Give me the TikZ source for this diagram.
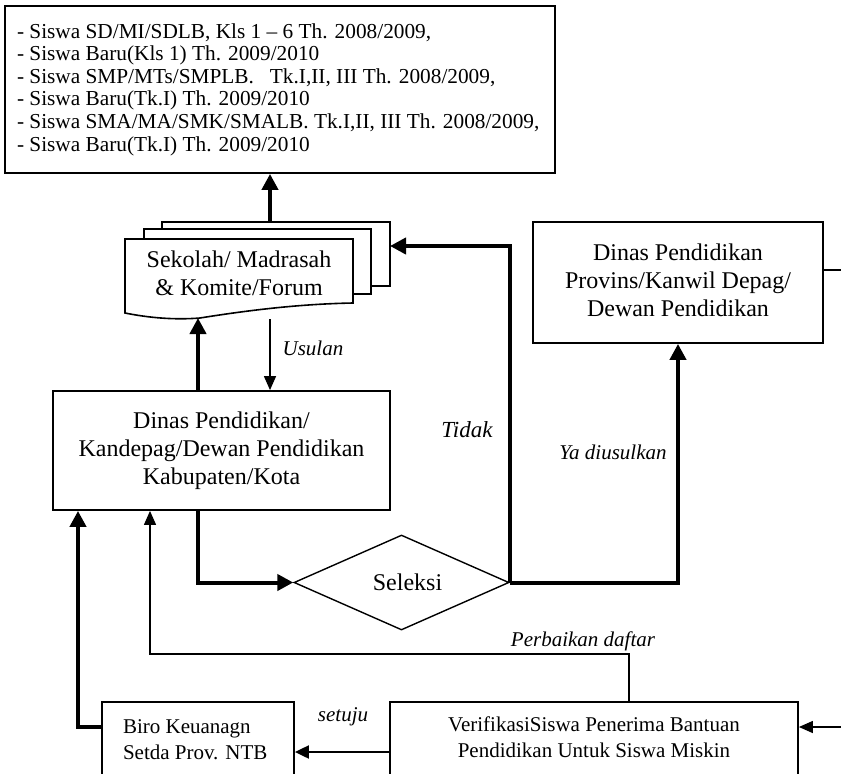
\documentclass[tikz,border=0pt]{standalone}
\usepackage{fontspec}
\setmainfont{Liberation Serif}
\usetikzlibrary{arrows.meta,shapes.geometric}
\newcommand{\liftc}[2]{\raisebox{#1}{\begin{tabular}{@{}c@{}}#2\end{tabular}}}
\begin{document}
\begin{tikzpicture}[x=1pt,y=-1pt,
  box/.style={draw, line width=1.8pt, inner sep=0pt},
  bigtxt/.style={font=\fontsize{24}{28}\selectfont},
  midtxt/.style={font=\fontsize{21}{26}\selectfont},
  lbl/.style={font=\fontsize{21}{24}\selectfont\itshape, inner sep=0pt},
  thk/.style={line width=4pt, -{Triangle[length=16pt,width=16pt]}},
  thn/.style={line width=1.3pt},
  thnarr/.style={line width=1.3pt, -{Triangle[length=14pt,width=12pt]}},
  mdarr/.style={line width=2pt, -{Triangle[length=14pt,width=13pt]}},
  page/.style={line width=1.6pt, fill=white, line join=miter}
]
\clip (0,0) rectangle (841,774);
\fill[white] (0,0) rectangle (841,774);

% top box
\node[box, minimum width=550pt, minimum height=167pt,
      font=\fontsize{21.3}{22.6}\selectfont] (top) at (280,89.5)
  {\raisebox{19pt}{\parbox{526pt}{\raggedright
   - Siswa SD/MI/SDLB, Kls 1 -- 6 Th. 2008/2009,\\
   - Siswa Baru(Kls 1) Th. 2009/2010\\
   - Siswa SMP/MTs/SMPLB.\ \ \ Tk.I,II, III Th. 2008/2009,\\
   - Siswa Baru(Tk.I) Th. 2009/2010\\
   - Siswa SMA/MA/SMK/SMALB. Tk.I,II, III Th. 2008/2009,\\
   - Siswa Baru(Tk.I) Th. 2009/2010}}};

% sekolah stacked documents
\draw[page] (162,229) -- (162,222) -- (390,222) -- (390,286) -- (371,286);
\draw[page] (144,239) -- (144,229) -- (371,229) -- (371,294) -- (353,294);
\draw[page] (125,239) -- (353,239) -- (353,303)
  .. controls (300,304) and (250,310) .. (200,318)
  .. controls (175,320) and (150,318) .. (125,313) -- cycle;
\node[bigtxt, align=center, inner sep=0pt] (sek) at (239,273) {Sekolah/ Madrasah\\\& Komite/Forum};
\coordinate (sekT) at (270,222);
\coordinate (sekB1) at (198,318);
\coordinate (sekB2) at (270,319);
\coordinate (sekR) at (390,246);

% Dinas kabupaten
\node[box, bigtxt, minimum width=337pt, minimum height=119pt] (kab) at (221.5,450.5)
  {\liftc{8pt}{Dinas Pendidikan/\\Kandepag/Dewan Pendidikan\\Kabupaten/Kota}};

% Dinas provinsi
\node[box, bigtxt, minimum width=290pt, minimum height=121pt] (prov) at (678,282.5)
  {\liftc{11pt}{Dinas Pendidikan\\Provins/Kanwil Depag/\\Dewan Pendidikan}};

% Seleksi
\node[draw, line width=1.4pt, diamond, aspect=2.26, minimum width=215pt,
      minimum height=95pt, inner sep=0pt, bigtxt] (sel) at (401.5,582.5) {\hspace{12pt}Seleksi};

% bottom boxes
\node[box, minimum width=192pt, minimum height=75pt, midtxt] (biro) at (198,739.5)
  {\parbox{150pt}{\raggedright Biro Keuanagn\\Setda Prov. NTB}};
\node[box, minimum width=408pt, minimum height=75pt, midtxt] (ver) at (594,739.5)
  {\begin{tabular}{@{}c@{}}VerifikasiSiswa Penerima Bantuan\\Pendidikan Untuk Siswa Miskin\end{tabular}};

\coordinate (e1) at (841,270);
\coordinate (e2) at (841,727);
\coordinate (pd) at (629,654);
\coordinate (pk) at (150,654);
\coordinate (bk) at (78,727);

% connectors
\draw[thk] (sekT) -- (sekT |- top.south);
\draw[thk] (sekB1 |- kab.north) -- (sekB1);
\draw[thnarr] (sekB2) -- (sekB2 |- kab.north);
\draw[thk] (kab.south -| sekB1) |- (sel.west);
\draw[thk] (sel.east) -- (sel.east |- sekR) -- (sekR);
\draw[thk] (sel.east) -| (prov.south);
\draw[thn] (prov.east |- e1) -- (e1);
\draw[thnarr] (e2) -- (e2 -| ver.east);
\draw[mdarr] ([yshift=-12.5pt]ver.west) -- ([yshift=-12.5pt]biro.east);
\draw[thnarr] (pd |- ver.north) -- (pd) -- (pk) -- (pk |- kab.south);
\draw[thk] ([yshift=12.5pt]biro.west) -- (bk) -- (bk |- kab.south);

% labels
\node[lbl] (usulan) at (313,348) {Usulan};
\node[lbl, font=\fontsize{23}{26}\selectfont\itshape] (tidak) at (467,430) {Tidak};
\node[lbl] (ya) at (613,452) {Ya diusulkan};
\node[lbl] (setuju) at (343,717) {setuju};
\node[lbl] (perb) at (583,641) {Perbaikan daftar};
\end{tikzpicture}
\end{document}
